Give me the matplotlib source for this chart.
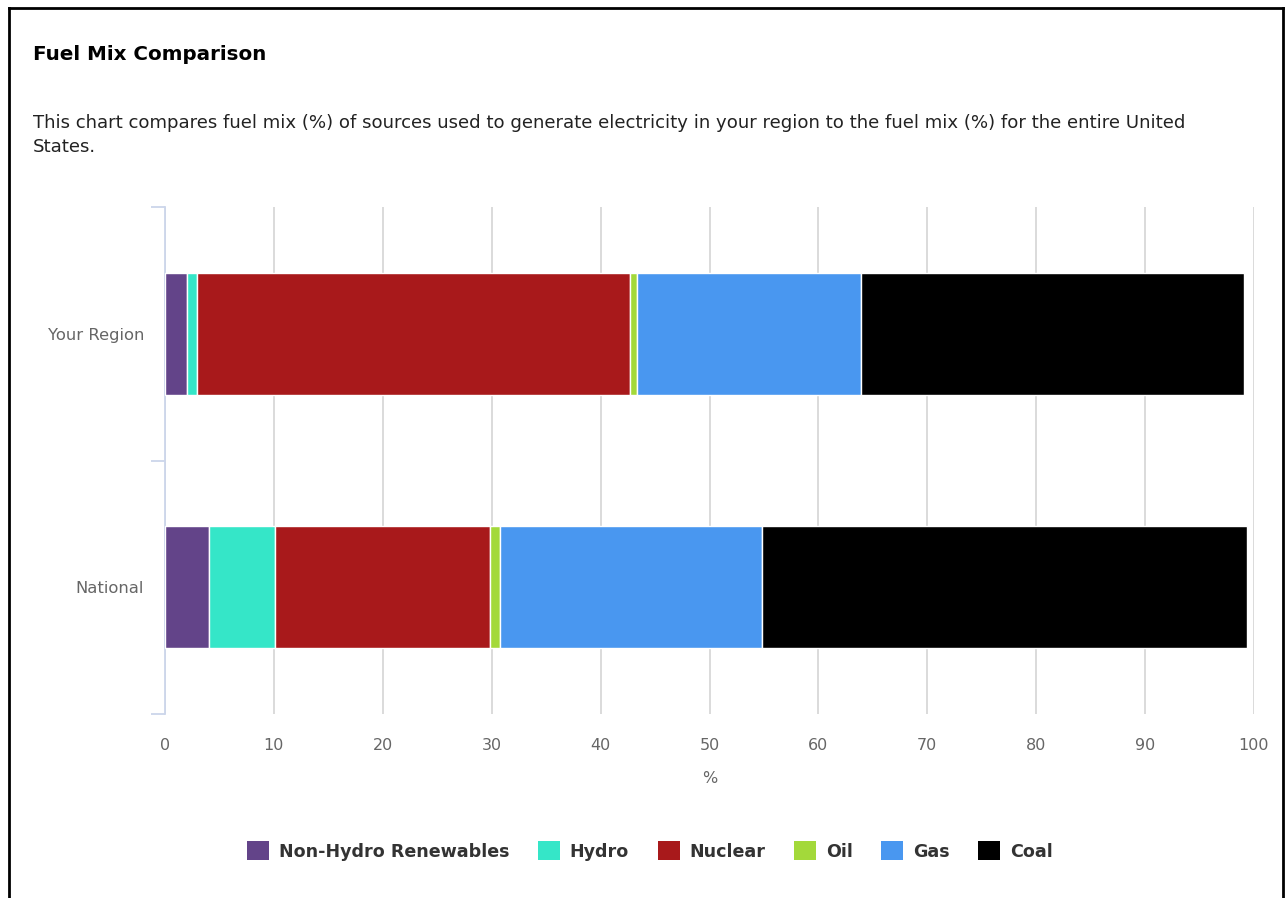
import matplotlib.pyplot as plt
from matplotlib.patches import Patch
from matplotlib.lines import Line2D

# data (% of fuel mix)
categories = ['Your Region', 'National']
sources = ['Non-Hydro Renewables', 'Hydro', 'Nuclear', 'Oil', 'Gas', 'Coal']
non_hydro = [2.0, 4.0]
hydro = [0.9, 6.1]
nuclear = [39.8, 19.7]
oil = [0.6, 1.0]
gas = [20.6, 24.0]
coal = [35.2, 44.6]
colors = ['#634489', '#35e6c8', '#a8191b', '#a3d93a', '#4997f0', '#000000']
x_ticks = list(range(0, 101, 10))

series = [non_hydro, hydro, nuclear, oil, gas, coal]

W, H = 1288, 898
fig = plt.figure(figsize=(W / 100, H / 100), dpi=100)
ax = fig.add_axes([165 / W, 1 - 714 / H, (1254 - 165) / W, (714 - 207) / H])

ypos = list(range(len(categories)))
left = [0.0] * len(categories)
for vals, col, name in zip(series, colors, sources):
    ax.barh(ypos, vals, left=left, height=0.48, color=col, edgecolor='white',
            linewidth=1, label=name, zorder=3)
    left = [l + v for l, v in zip(left, vals)]

ax.set_xlim(0, 100)
ax.set_ylim(1.5, -0.5)
ax.set_xticks(x_ticks)
ax.set_xticklabels([str(t) for t in x_ticks])
ax.set_yticks(ypos)
ax.set_yticklabels(categories)
ax.set_yticks([-0.5, 0.5, 1.5], minor=True)

ax.grid(axis='x', color='#d8d8d8', linewidth=1.3, zorder=0)
for s in ['top', 'right', 'bottom']:
    ax.spines[s].set_visible(False)
ax.spines['left'].set_color('#ccd6eb')
ax.spines['left'].set_linewidth(1.3)

ax.tick_params(axis='x', length=0, pad=17, labelsize=11.5, labelcolor='#666666')
ax.tick_params(axis='y', which='major', length=0, pad=15, labelsize=11.8, labelcolor='#666666')
ax.tick_params(axis='y', which='minor', length=10, width=1.3, color='#ccd6eb')
ax.set_xlabel('%', fontsize=11.5, color='#666666', labelpad=13)

fig.text(33 / W, 1 - 55 / H, 'Fuel Mix Comparison', fontsize=14.3, fontweight='bold',
         color='black', va='center', ha='left')
fig.text(33 / W, 1 - 135 / H,
         'This chart compares fuel mix (%) of sources used to generate electricity in your region to the fuel mix (%) for the entire United\nStates.',
         fontsize=13.1, color='#222222', va='center', ha='left', linespacing=1.5)

handles = [Patch(facecolor=c, edgecolor='none') for c in colors]
leg = fig.legend(handles, sources, loc='center', bbox_to_anchor=(650 / W, 1 - 851 / H),
                 ncol=6, frameon=False, handlelength=1.25, handleheight=1.25,
                 handletextpad=0.55, columnspacing=1.65,
                 prop={'weight': 'bold', 'size': 12.6})
for t in leg.get_texts():
    t.set_color('#333333')

# frame around the panel
fig.add_artist(Line2D([9 / W, 9 / W], [0, 1 - 8 / H], color='black', linewidth=2))
fig.add_artist(Line2D([9 / W, 1283 / W], [1 - 8 / H, 1 - 8 / H], color='black', linewidth=2))
fig.add_artist(Line2D([1283 / W, 1283 / W], [0, 1 - 8 / H], color='black', linewidth=2))

fig.savefig('out.png', dpi=100)
